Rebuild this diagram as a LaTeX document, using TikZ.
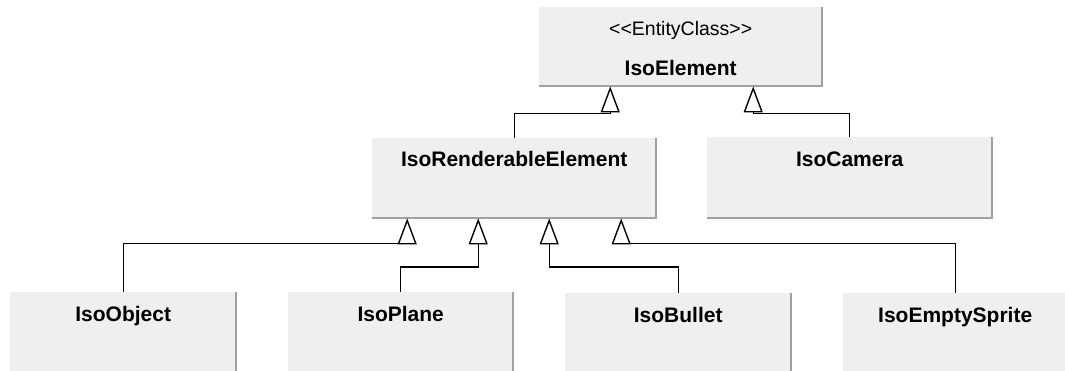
\documentclass[tikz,border=0pt]{standalone}
\usepackage{fontspec}
\setmainfont{Liberation Sans}
\usetikzlibrary{arrows.meta,calc}

\definecolor{boxfill}{HTML}{EFEFEF}
\definecolor{boxedge}{HTML}{A0A0A0}

\tikzset{
  classbox/.style 2 args={draw=none, fill=boxfill, anchor=north west, inner sep=0pt,
    minimum width=#1pt, minimum height=#2pt},
  classname/.style={anchor=base, inner sep=0pt, font=\fontsize{21}{25}\selectfont\bfseries},
  stereotype/.style={anchor=base, inner sep=0pt, font=\fontsize{19.5}{23}\selectfont},
  edgeline/.style={draw=boxedge, line width=2pt},
  gen/.style={draw=black, line width=1.4pt,
    -{Triangle[open, length=26pt, width=19pt, line width=1.4pt]}},
}

\begin{document}
\begin{tikzpicture}[x=1pt, y=1pt]
  \useasboundingbox (0,0) rectangle (1065,-370);
  \fill[white] (0,0) rectangle (1065,-370);
  \clip (0,0) rectangle (1065,-370);

  % class boxes
  \node[classbox={283}{79}]  (elem)   at (539,-7)   {};
  \node[classbox={284}{80}]  (rend)   at (372,-138) {};
  \node[classbox={285}{81}]  (cam)    at (707,-137) {};
  \node[classbox={226}{100}] (obj)    at (10,-292)  {};
  \node[classbox={225}{100}] (plane)  at (288,-292) {};
  \node[classbox={226}{100}] (bullet) at (565,-293) {};
  \node[classbox={224}{100}] (empty)  at (843,-293) {};

  % shaded right and bottom edges
  \foreach \b in {elem,rend,cam,obj,plane,bullet,empty}
    \draw[edgeline] (\b.north east) -- (\b.south east) -- (\b.south west);

  % class titles
  \node[stereotype] (elem-st)    at ($(elem.north)+(0,-28)$)   {{<}{<}EntityClass{>}{>}};
  \node[classname]  (elem-nm)    at ($(elem.north)+(0,-68)$)   {IsoElement};
  \node[classname]  (rend-nm)    at ($(rend.north)+(0,-28.5)$) {IsoRenderableElement};
  \node[classname]  (cam-nm)     at ($(cam.north)+(0,-29)$)    {IsoCamera};
  \node[classname]  (obj-nm)     at ($(obj.north)+(0,-29)$)    {IsoObject};
  \node[classname]  (plane-nm)   at ($(plane.north)+(0,-29)$)  {IsoPlane};
  \node[classname]  (bullet-nm)  at ($(bullet.north)+(0,-29)$) {IsoBullet};
  \node[classname]  (empty-nm)   at ($(empty.north)+(0,-29)$)  {IsoEmptySprite};

  % generalizations towards IsoElement
  \draw[gen] (rend.north) |- ($(elem.south)+(-70.5,-27)$) -- ($(elem.south)+(-70.5,0)$);
  \draw[gen] (cam.north)  |- ($(elem.south)+(72.5,-27)$)  -- ($(elem.south)+(72.5,0)$);

  % generalizations towards IsoRenderableElement
  \draw[gen] (obj.north)   |- ($(rend.south)+(-107,-25)$) -- ($(rend.south)+(-107,0)$);
  \draw[gen] (plane.north)  -- ++(0,25) -| ($(rend.south)+(-36,0)$);
  \draw[gen] (bullet.north) -- ++(0,26) -| ($(rend.south)+(35,0)$);
  \draw[gen] (empty.north) |- ($(rend.south)+(107,-25)$)  -- ($(rend.south)+(107,0)$);
\end{tikzpicture}
\end{document}
